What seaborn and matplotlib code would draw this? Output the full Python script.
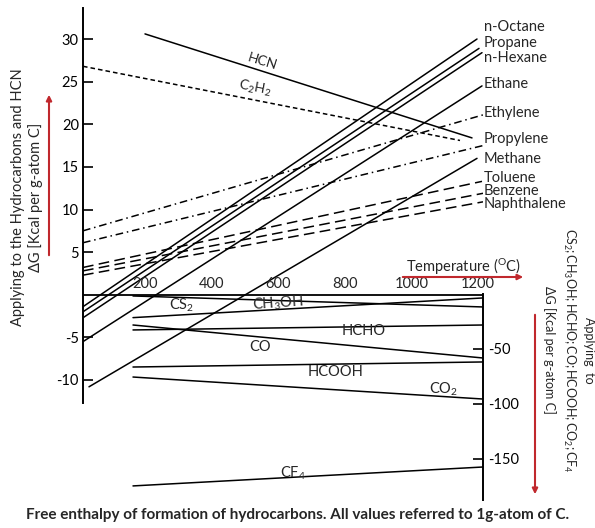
import matplotlib
matplotlib.use("Agg")
import matplotlib.pyplot as plt
import numpy as np
import pandas as pd
import seaborn as sns

# hydrocarbons + HCN, left scale (kcal per g-atom C)
hc_names = ["HCN", "C2H2", "n-Octane", "Propane", "n-Hexane", "Ethane",
            "Ethylene", "Propylene", "Methane", "Toluene", "Benzene", "Naphthalene"]
hc_t0 = [186, 0, 0, 0, 0, 0, 0, 0, 18, 0, 0, 0]
hc_t1 = [1167, 1131, 1182, 1188, 1197, 1197, 1200, 1200, 1182, 1197, 1200, 1200]
hc_g0 = [30.6, 26.8, -1.4, -2.0, -2.7, -5.5, 7.5, 6.1, -10.8, 3.2, 2.8, 2.3]
hc_g1 = [18.4, 18.1, 30.0, 28.9, 28.4, 24.5, 21.1, 17.5, 16.0, 13.3, 11.9, 10.9]
# where the names sit at the right end
hc_label_g = [None, None, 31.4, 29.5, 27.8, 24.7, 21.3, 18.3, 15.9, 13.7, 12.2, 10.6]

# other compounds, right scale
ox_names = ["CS2", "CH3OH", "HCHO", "CO", "HCOOH", "CO2", "CF4"]
ox_t0 = [150, 150, 150, 150, 150, 150, 150]
ox_t1 = [1200, 1200, 1200, 1200, 1200, 1200, 1200]
ox_g0 = [-1.8, -21.5, -32.7, -28.2, -66.4, -75.5, -174.5]
ox_g1 = [-11.8, -3.6, -28.2, -58.2, -61.8, -95.5, -157.3]
ox_label_t = [297, 585, 843, 531, 759, 1080, 630]
ox_label_g = [-10.0, -9.0, -33.6, -48.2, -70.9, -86.4, -162.7]
ox_tex = [r"$\mathregular{CS_2}$", r"$\mathregular{CH_3OH}$", "HCHO", "CO", "HCOOH",
          r"$\mathregular{CO_2}$", r"$\mathregular{CF_4}$"]

left_ticks = [-10, -5, 5, 10, 15, 20, 25, 30]
right_ticks = [-150, -100, -50]
temp_ticks = [200, 400, 600, 800, 1000, 1200]

sns.set_theme(style="white")
plt.rcParams["font.family"] = ["Lato", "DejaVu Sans"]
plt.rcParams["mathtext.fontset"] = "custom"
plt.rcParams["mathtext.rm"] = "Lato"
plt.rcParams["mathtext.it"] = "Lato:italic"

hc_df = pd.DataFrame({
    "species": np.repeat(hc_names, 2),
    "T": np.ravel(list(zip(hc_t0, hc_t1))),
    "dG": np.ravel(list(zip(hc_g0, hc_g1))),
})
ox_df = pd.DataFrame({
    "species": np.repeat(ox_names, 2),
    "T": np.ravel(list(zip(ox_t0, ox_t1))),
    "dG": np.ravel(list(zip(ox_g0, ox_g1))),
})

dash_hc = {n: "" for n in hc_names}
dash_hc["C2H2"] = (3, 2)
dash_hc["Ethylene"] = (5, 2.5, 1, 2.5)
dash_hc["Propylene"] = (5, 2.5, 1, 2.5)
for n in ["Toluene", "Benzene", "Naphthalene"]:
    dash_hc[n] = (7, 3.5)

fig = plt.figure(figsize=(5.95, 5.28), dpi=100)
ax = fig.add_axes([83 / 595, 28 / 528, 400 / 595, 492 / 528])
ax.set_facecolor("none")

sns.lineplot(data=hc_df, x="T", y="dG", hue="species", style="species",
             palette={n: "black" for n in hc_names}, dashes=dash_hc,
             estimator=None, sort=False, legend=False, lw=1.1, ax=ax)
ax.set_xlim(0, 1200)
ax.set_ylim(-24.08, 33.64)
ax.axhline(0, color="black", lw=1.3)

for sp in ["top", "bottom", "right"]:
    ax.spines[sp].set_visible(False)
ax.spines["left"].set_color("black")
ax.spines["left"].set_linewidth(1.4)
ax.spines["left"].set_bounds(-12.7, 33.64)
ax.set_xticks([])
ax.set_yticks(left_ticks)
ax.set_yticklabels([str(t) for t in left_ticks])
ax.tick_params(axis="y", direction="in", length=7, width=1.2, labelsize=10.5,
               pad=3, left=True, colors="black")
ax.set_xlabel("")
ax.set_ylabel("")

for t in temp_ticks:
    ax.text(t - 15, 0.4, str(t), ha="center", va="bottom", fontsize=10.5)

for n, t1, g in zip(hc_names, hc_t1, hc_label_g):
    if g is not None:
        ax.text(1203, g, n, ha="left", va="center", fontsize=10.5)
ax.text(537, 27.3, "HCN", ha="center", va="center", fontsize=10, rotation=-17)
ax.text(516, 24.2, r"$\mathregular{C_2H_2}$", ha="center", va="center",
        fontsize=10, rotation=-11)

tw = ax.twinx()
tw.set_facecolor("none")
sns.lineplot(data=ox_df, x="T", y="dG", hue="species",
             palette={n: "black" for n in ox_names}, estimator=None, sort=False,
             legend=False, lw=1.1, ax=tw)
tw.set_ylim(-187.3, 260)
for sp in ["top", "bottom", "left"]:
    tw.spines[sp].set_visible(False)
tw.spines["right"].set_visible(True)
tw.spines["right"].set_color("black")
tw.spines["right"].set_linewidth(1.4)
tw.spines["right"].set_bounds(-187.3, 0)
tw.set_yticks(right_ticks)
tw.set_yticklabels([str(t) for t in right_ticks])
tw.tick_params(axis="y", direction="in", length=7, width=1.2, labelsize=10.5,
               pad=4, right=True, colors="black")
tw.set_ylabel("")
tw.set_xlabel("")
tw.set_xlim(0, 1200)

for lab, t, g in zip(ox_tex, ox_label_t, ox_label_g):
    rot = 4 if lab.startswith(r"$\mathregular{CH_3") else 0
    tw.text(t, g, lab, ha="center", va="center", fontsize=10.5, rotation=rot)

# axis titles
fig.text(27 / 595, 1 - 197 / 528,
         "Applying to the Hydrocarbons and HCN\n\u0394G [Kcal per g-atom C]",
         rotation=90, ha="center", va="center", fontsize=10.5, linespacing=1.25)
fig.text(569 / 595, 1 - 350 / 528,
         "Applying  to\n" + r"$\mathregular{CS_2;CH_3OH;HCHO;CO;HCOOH;CO_2;CF_4}$"
         + "\n\u0394G [Kcal per g-atom C]",
         rotation=270, ha="center", va="center", fontsize=9, linespacing=1.45)
fig.text(463 / 595, 1 - 267 / 528, r"Temperature ($\mathregular{^O}$C)",
         ha="center", va="center", fontsize=10.5)

red = "#c0282d"
arrow = dict(arrowstyle="-|>", color=red, lw=1.5, mutation_scale=8)
ax.annotate("", xy=(49, 528 - 92), xytext=(49, 528 - 258),
            xycoords="figure pixels", textcoords="figure pixels", arrowprops=arrow)
ax.annotate("", xy=(535, 528 - 497), xytext=(535, 528 - 312),
            xycoords="figure pixels", textcoords="figure pixels", arrowprops=arrow)
ax.annotate("", xy=(526, 528 - 277), xytext=(400, 528 - 277),
            xycoords="figure pixels", textcoords="figure pixels", arrowprops=arrow)

fig.text(0.5, 1 - 515 / 528,
         "Free enthalpy of formation of hydrocarbons. All values referred to 1g-atom of C.",
         ha="center", va="center", fontsize=11, fontweight="bold")

fig.savefig("out.png", dpi=100)
